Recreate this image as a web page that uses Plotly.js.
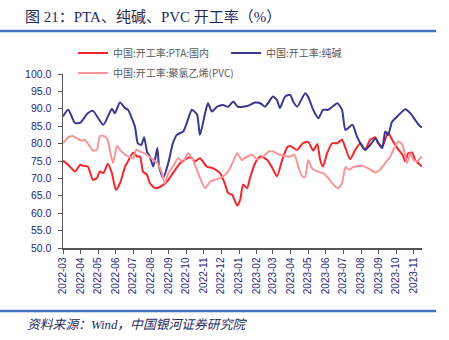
<!DOCTYPE html>
<html>
<head>
<meta charset="utf-8">
<script src="https://cdn.plot.ly/plotly-3.0.1.min.js"></script>
<style>
html,body{margin:0;padding:0;background:#fff;}
#chart{width:449px;height:340px;}
</style>
</head>
<body>
<div id="chart"></div>
<script>
const titleText = "图 21：PTA、纯碱、PVC 开工率（%）";
const sourceText = "资料来源：Wind，中国银河证券研究院";
const seriesNames = ["中国:开工率:PTA:国内", "中国:开工率:纯碱", "中国:开工率:聚氯乙烯(PVC)"];

const ptaDates = ["2022-03-01","2022-03-10","2022-03-22","2022-03-31","2022-04-05","2022-04-13","2022-04-22","2022-04-29","2022-05-04","2022-05-10","2022-05-18","2022-05-25","2022-06-01","2022-06-08","2022-06-17","2022-06-22","2022-07-01","2022-07-08","2022-07-13","2022-07-18","2022-07-25","2022-07-30","2022-08-08","2022-08-17","2022-08-29","2022-09-08","2022-09-21","2022-10-08","2022-10-17","2022-10-25","2022-11-06","2022-11-17","2022-11-29","2022-12-08","2022-12-13","2022-12-20","2022-12-29","2023-01-03","2023-01-08","2023-01-15","2023-01-20","2023-01-29","2023-02-07","2023-02-19","2023-02-28","2023-03-08","2023-03-17","2023-03-26","2023-03-31","2023-04-12","2023-04-22","2023-05-01","2023-05-10","2023-05-17","2023-05-22","2023-05-27","2023-06-03","2023-06-12","2023-06-21","2023-06-29","2023-07-05","2023-07-13","2023-07-22","2023-07-31","2023-08-08","2023-08-17","2023-08-26","2023-08-31","2023-09-07","2023-09-12","2023-09-17","2023-09-24","2023-10-03","2023-10-12","2023-10-17","2023-10-22","2023-10-29","2023-11-03","2023-11-08","2023-11-15"];
const ptaValues = [75.1,73.9,72.0,73.9,73.6,73.4,69.6,70.1,72.0,71.5,74.2,71.5,66.7,68.6,73.4,74.9,77.4,76.3,76.3,72.0,71.0,68.6,67.2,67.6,69.1,71.5,74.4,76.1,74.9,75.8,73.4,72.9,71.5,68.2,65.8,65.3,62.2,63.9,68.2,67.2,70.1,74.4,76.3,75.3,72.9,70.6,75.3,79.0,79.3,78.2,80.1,80.5,78.0,79.9,75.3,73.4,77.2,80.1,80.1,81.1,78.7,75.5,78.2,80.1,78.2,81.1,81.8,80.1,79.2,81.1,83.2,81.1,78.7,76.8,74.9,77.2,77.4,75.3,74.4,73.4];

const sodaDates = ["2022-03-01","2022-03-10","2022-03-22","2022-03-31","2022-04-13","2022-04-22","2022-05-10","2022-05-25","2022-05-30","2022-06-08","2022-06-17","2022-06-22","2022-07-04","2022-07-09","2022-07-15","2022-07-20","2022-07-25","2022-07-30","2022-08-05","2022-08-12","2022-08-15","2022-08-22","2022-08-31","2022-09-08","2022-09-15","2022-09-26","2022-10-04","2022-10-11","2022-10-20","2022-10-25","2022-11-03","2022-11-08","2022-11-15","2022-11-24","2022-12-04","2022-12-13","2022-12-22","2022-12-30","2023-01-15","2023-01-29","2023-02-07","2023-02-15","2023-02-21","2023-03-01","2023-03-08","2023-03-13","2023-03-22","2023-03-31","2023-04-05","2023-04-12","2023-04-26","2023-05-01","2023-05-10","2023-05-19","2023-05-27","2023-06-05","2023-06-12","2023-06-21","2023-06-29","2023-07-05","2023-07-17","2023-07-25","2023-08-03","2023-08-08","2023-08-17","2023-08-26","2023-08-31","2023-09-07","2023-09-12","2023-09-17","2023-09-24","2023-10-03","2023-10-17","2023-10-26","2023-11-03","2023-11-12","2023-11-15"];
const sodaValues = [87.8,89.7,85.9,86.0,88.7,89.4,85.4,90.0,88.7,91.8,90.2,89.7,84.9,80.1,79.6,81.8,77.7,76.3,73.4,78.7,73.4,70.1,74.4,80.1,82.5,83.5,86.8,89.7,88.3,82.5,88.7,91.6,89.2,90.6,91.1,90.6,92.1,90.6,90.8,91.8,91.6,90.6,91.8,93.5,92.5,90.2,93.5,94.0,92.1,90.6,94.5,93.5,89.7,87.3,89.7,89.7,90.6,91.6,89.7,83.9,85.4,82.0,79.2,78.2,79.6,81.5,80.1,78.7,83.5,82.5,86.3,87.8,89.9,88.7,86.8,84.9,84.7];

const pvcDates = ["2022-03-01","2022-03-10","2022-03-18","2022-03-25","2022-04-03","2022-04-08","2022-04-13","2022-04-22","2022-04-29","2022-05-04","2022-05-11","2022-05-17","2022-05-22","2022-05-27","2022-06-03","2022-06-08","2022-06-17","2022-06-26","2022-07-01","2022-07-06","2022-07-13","2022-07-22","2022-07-30","2022-08-12","2022-08-20","2022-08-25","2022-08-31","2022-09-08","2022-09-17","2022-09-26","2022-10-04","2022-10-13","2022-10-22","2022-11-03","2022-11-12","2022-11-20","2022-12-03","2022-12-13","2022-12-22","2022-12-29","2023-01-06","2023-01-15","2023-01-24","2023-02-01","2023-02-12","2023-02-21","2023-03-01","2023-03-13","2023-03-26","2023-03-31","2023-04-07","2023-04-14","2023-04-21","2023-04-26","2023-05-01","2023-05-08","2023-05-17","2023-05-27","2023-06-05","2023-06-14","2023-06-22","2023-06-29","2023-07-05","2023-07-11","2023-07-18","2023-08-03","2023-08-14","2023-08-26","2023-09-03","2023-09-12","2023-09-21","2023-09-29","2023-10-05","2023-10-12","2023-10-17","2023-10-20","2023-10-26","2023-10-31","2023-11-07","2023-11-12","2023-11-15"];
const pvcValues = [80.1,81.8,82.2,81.5,80.8,81.1,80.1,78.0,78.2,82.2,82.2,81.3,77.7,74.4,79.4,78.2,76.8,76.1,75.7,78.2,77.7,77.1,76.1,74.4,71.5,68.6,71.5,73.4,75.8,74.6,77.2,75.3,71.5,67.2,69.1,69.6,70.4,72.0,74.9,77.2,75.3,76.3,76.8,75.5,76.3,77.7,77.7,76.8,76.3,76.3,76.8,73.4,70.6,70.4,75.3,72.9,72.0,71.5,70.1,68.2,67.2,68.6,73.2,72.5,73.2,73.6,72.9,71.7,72.5,74.4,76.3,79.2,80.6,79.6,76.3,74.4,77.2,75.3,74.9,75.8,76.3];

const xRange = ["2022-03-01", "2023-11-15"];
const yRange = [50, 100];

const tickColor = "#25287a";
const lineStyle = {shape: "spline", smoothing: 0.6, width: 2};

const traces = [
  {x: ptaDates, y: ptaValues, name: seriesNames[0], type: "scatter", mode: "lines",
   line: Object.assign({}, lineStyle, {color: "#f4262b"}), legend: "legend"},
  {x: sodaDates, y: sodaValues, name: seriesNames[1], type: "scatter", mode: "lines",
   line: Object.assign({}, lineStyle, {color: "#39388f"}), legend: "legend"},
  {x: pvcDates, y: pvcValues, name: seriesNames[2], type: "scatter", mode: "lines",
   line: Object.assign({}, lineStyle, {color: "#f79599"}), legend: "legend2"}
];

const legendFont = {family: "Noto Sans CJK SC, Liberation Sans, sans-serif", size: 10, color: "#5a5a5a"};

const layout = {
  width: 449, height: 340,
  margin: {l: 63, r: 27, t: 74, b: 92, autoexpand: false},
  paper_bgcolor: "#ffffff", plot_bgcolor: "#ffffff",
  showlegend: true,
  title: {
    text: titleText,
    font: {family: "Liberation Serif, Noto Sans CJK SC, serif", size: 15, color: "#1f2a5e"},
    xref: "container", yref: "container", x: 25/449, xanchor: "left", y: 1 - 17/340, yanchor: "middle"
  },
  legend: {
    orientation: "h", xref: "paper", yref: "paper",
    x: 0.028, xanchor: "left", y: 1.12, yanchor: "middle",
    entrywidth: 108, entrywidthmode: "pixels",
    font: legendFont, bgcolor: "rgba(0,0,0,0)", borderwidth: 0, itemwidth: 30
  },
  legend2: {
    orientation: "h", xref: "paper", yref: "paper",
    x: 0.028, xanchor: "left", y: 1.006, yanchor: "middle",
    font: legendFont, bgcolor: "rgba(0,0,0,0)", borderwidth: 0, itemwidth: 30
  },
  xaxis: {
    type: "date", range: xRange, tick0: "2022-03-01", dtick: "M1", tickformat: "%Y-%m",
    tickangle: -90, ticks: "outside", ticklen: 4, tickcolor: "#555555", tickwidth: 1,
    showline: true, linecolor: "#555555", linewidth: 1.5, showgrid: false, zeroline: false,
    tickfont: {family: "Liberation Sans, Arial, sans-serif", size: 10, color: tickColor},
    fixedrange: true
  },
  yaxis: {
    range: yRange, dtick: 5, tick0: 50, tickformat: ".1f",
    ticks: "outside", ticklen: 4, tickcolor: "#555555", tickwidth: 1,
    showline: true, linecolor: "#555555", linewidth: 1.5, showgrid: false, zeroline: false,
    ticklabelstandoff: 4,
    tickfont: {family: "Liberation Sans, Arial, sans-serif", size: 10.5, color: tickColor},
    fixedrange: true
  },
  shapes: [
    {type: "line", xref: "paper", yref: "paper", x0: -63/359, x1: 373/359, y0: 217/174, y1: 217/174,
     line: {color: "#4472c4", width: 2.5}},
    {type: "line", xref: "paper", yref: "paper", x0: -63/359, x1: 373/359, y0: -63/174, y1: -63/174,
     line: {color: "#4472c4", width: 2.5}}
  ],
  annotations: [
    {text: sourceText, xref: "paper", yref: "paper", x: -38/359, xanchor: "left",
     y: -77/174, yanchor: "middle", showarrow: false,
     font: {family: "Liberation Serif, Noto Sans CJK SC, serif", size: 12.8, color: "#1f2a5e", style: "italic"}}
  ]
};

Plotly.newPlot("chart", traces, layout, {staticPlot: true, displayModeBar: false});
</script>
</body>
</html>
